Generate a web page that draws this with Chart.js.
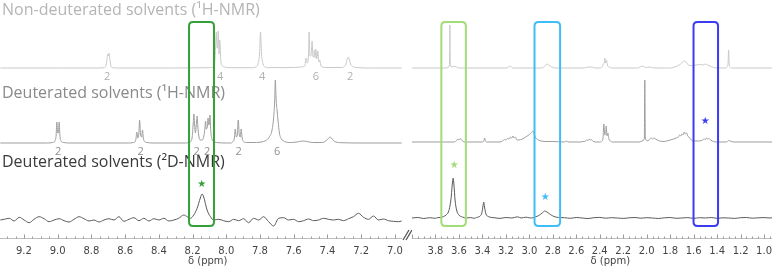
<!DOCTYPE html>
<html>
<head>
<meta charset="utf-8">
<script src="https://cdn.jsdelivr.net/npm/chart.js@4.4.1/dist/chart.umd.min.js"></script>
<style>
  html, body { margin: 0; padding: 0; background: #fff; overflow: hidden; }
  #wrap { position: relative; width: 779px; height: 268px; }
  #c1 { position: absolute; left: 0; top: 0; }
  #c2 { position: absolute; left: 412px; top: 0; }
</style>
</head>
<body>
<div id="wrap">
  <canvas id="c1" width="412" height="268"></canvas>
  <canvas id="c2" width="367" height="268"></canvas>
</div>
<script>
// spectra as [ppm, intensity] pairs
const L_NONDEUT = [
  [9.34,0],[9.0,0],[8.75,0],[8.725,0.3],[8.715,1.5],[8.708,8],[8.703,14],[8.699,12],[8.695,15],[8.69,8],[8.683,1.5],[8.672,0.3],[8.64,0],
  [8.30,0],[8.10,0.3],[8.078,1],[8.068,6],[8.059,36],[8.055,20],[8.052,20],[8.048,37],[8.043,14],[8.039,28],[8.032,6],[8.022,2],[8.01,1],[7.98,0.3],
  [7.85,0.3],[7.825,1],[7.812,4],[7.803,14],[7.797,36],[7.791,14],[7.782,4],[7.77,1],[7.75,0.3],[7.70,0.5],[7.67,0.3],[7.60,0.5],[7.56,1],
  [7.535,2],[7.527,10],[7.52,5],[7.513,12],[7.509,36],[7.504,12],[7.497,13],[7.491,27],[7.486,11],[7.481,12],[7.478,18],[7.473,10],[7.469,19],
  [7.463,9],[7.457,17],[7.451,6],[7.446,8],[7.44,3],[7.43,1],[7.41,0.5],
  [7.32,0.5],[7.30,1.5],[7.29,4],[7.283,9],[7.277,11],[7.271,9],[7.263,4],[7.25,1.5],[7.23,0.5],[7.15,0],[6.96,0]
];
const L_DEUT_1H = [
  [9.34,0],[9.06,0],[9.03,0.5],[9.016,2],[9.009,8],[9.005,21],[9.0,10],[8.996,10],[8.991,21],[8.987,8],[8.98,2],[8.965,0.5],[8.93,0],
  [8.58,0],[8.55,0.5],[8.54,1.5],[8.535,5],[8.531,11],[8.525,5],[8.519,9],[8.514,23],[8.509,9],[8.502,6],[8.497,13],[8.492,5],[8.485,1.5],[8.47,0.5],[8.44,0],
  [8.24,0],[8.215,1],[8.203,5],[8.196,20],[8.192,29],[8.188,18],[8.183,10],[8.177,20],[8.173,27],[8.169,17],[8.162,6],[8.153,3],[8.143,3],
  [8.133,7],[8.127,14],[8.123,22],[8.119,14],[8.113,16],[8.108,25],[8.104,18],[8.1,20],[8.097,28],[8.092,12],[8.085,4],[8.075,1.5],[8.06,0.5],[8.0,0],
  [7.975,0],[7.96,1.5],[7.952,5],[7.947,14],[7.941,6],[7.935,8],[7.929,23],[7.923,8],[7.917,6],[7.912,14],[7.906,5],[7.897,1.5],[7.88,0.5],
  [7.82,0.5],[7.78,1.5],[7.76,3],[7.745,6],[7.73,12],[7.72,24],[7.713,42],[7.709,63],[7.705,45],[7.699,33],[7.693,22],[7.685,10],[7.673,4],
  [7.655,1.5],[7.62,0.5],[7.58,1],[7.55,2],[7.52,1.5],[7.49,0.5],[7.43,0.5],[7.41,2],[7.395,4.5],[7.385,6],[7.376,5],[7.365,2.5],[7.35,1],
  [7.32,0.3],[7.2,0],[6.96,0]
];
const L_DEUT_2D = [
  [9.34,0],[9.317,0.7],[9.287,1.7],[9.258,-1],[9.228,2.7],[9.199,0],[9.169,-2.7],[9.14,0.7],[9.11,3.3],[9.08,1.3],[9.051,-1.7],
  [9.021,0],[8.992,1.3],[8.962,-0.7],[8.933,-2],[8.903,0.7],[8.873,3.3],[8.844,1.3],[8.814,-1],[8.785,0],[8.755,-2],[8.725,0],
  [8.696,1.3],[8.666,0],[8.637,3.3],[8.607,-1.3],[8.577,0.7],[8.548,2.3],[8.518,-0.7],[8.489,1.7],[8.459,-1],[8.429,1.3],[8.4,0],
  [8.37,1.7],[8.341,-1],[8.311,0],[8.282,1.7],[8.252,5],[8.232,3.3],[8.213,1.7],[8.193,5],[8.173,11.7],[8.154,22],[8.144,26],
  [8.134,23],[8.114,10],[8.094,3.3],[8.075,0],[8.045,0.7],[8.016,-0.7],[7.986,-1.7],[7.956,0.7],[7.927,-0.7],[7.897,1.3],[7.868,-2.7],
  [7.838,1.7],[7.808,0],[7.779,3.3],[7.749,-1.7],[7.719,-6],[7.69,1.7],[7.66,2.3],[7.631,0],[7.601,0.7],[7.571,-1.7],[7.542,-0.7],
  [7.512,1],[7.482,-0.7],[7.453,0],[7.423,1.7],[7.394,0.7],[7.364,0],[7.335,0.7],[7.305,-0.7],[7.275,1.3],[7.246,3.3],[7.216,6.7],
  [7.186,2.7],[7.157,0.7],[7.127,4],[7.098,0],[7.068,1],[7.038,-0.7],[7.009,-1.3],[6.979,-1.7],[6.96,-1]
];

const R_NONDEUT = [
  [4.0,0],[3.72,0],[3.69,0.5],[3.682,3],[3.679,15],[3.677,43],[3.675,15],[3.672,3],[3.665,1],[3.64,1.5],[3.62,1],[3.60,0],
  [3.20,0],[3.175,1],[3.165,2],[3.155,1.5],[3.14,0],
  [2.90,0],[2.87,1.5],[2.85,4],[2.835,3],[2.81,1],[2.78,0],
  [2.53,0],[2.50,1],[2.47,1],[2.44,0],
  [2.40,0],[2.38,1],[2.37,4],[2.362,5],[2.357,10],[2.35,5],[2.343,8],[2.335,3],[2.32,1],[2.30,0],
  [2.08,0],[2.05,1.5],[2.04,2],[2.02,1],[2.0,0.5],[1.98,1],[1.96,0.5],[1.93,0],
  [1.80,0],[1.75,1.5],[1.71,4],[1.68,7],[1.665,6],[1.645,3],[1.62,2.5],[1.58,3],[1.54,3.5],[1.52,3],[1.5,4],[1.48,3],[1.46,2],[1.43,0.5],[1.40,0],
  [1.33,0],[1.315,1],[1.307,4],[1.302,18],[1.297,4],[1.29,1],[1.27,0],[0.93,0]
];
const R_DEUT_1H = [
  [4.0,0],[3.64,0],[3.62,1.5],[3.61,3],[3.60,2],[3.59,3.5],[3.58,2.5],[3.57,1],[3.55,0],
  [3.40,0],[3.388,1],[3.381,4],[3.374,1],[3.36,0],
  [3.25,0],[3.23,1],[3.21,2.5],[3.20,2],[3.185,3.5],[3.17,3],[3.16,5],[3.15,4],[3.14,6],[3.13,4],[3.12,5],[3.105,2],[3.09,2],
  [3.06,3],[3.03,5],[3.0,7.5],[2.98,9.5],[2.97,11],[2.962,9],[2.95,5],[2.93,2.5],[2.9,1],[2.85,0.5],[2.80,0.5],
  [2.70,0],[2.685,1],[2.67,0],[2.56,0],[2.545,0.5],
  [2.53,0.5],[2.51,2],[2.50,1.5],[2.49,3],[2.48,2],[2.47,2.5],[2.46,1],[2.44,0],
  [2.40,0],[2.38,1],[2.372,4],[2.365,18],[2.357,7],[2.35,8],[2.345,16],[2.338,6],[2.33,9],[2.322,3],[2.31,1],[2.29,0],
  [2.06,0],[2.04,1],[2.025,2],[2.02,5],[2.016,62],[2.012,5],[2.005,2],
  [1.99,1],[1.975,3],[1.96,4],[1.95,3],[1.94,4],[1.925,3],[1.91,2],[1.89,1],[1.86,0.5],
  [1.83,1],[1.80,2],[1.77,3],[1.75,4],[1.73,5],[1.72,7],[1.71,6],[1.70,8],[1.69,7],[1.68,10],[1.67,8],[1.66,9],[1.65,6],[1.64,5],[1.62,2],[1.60,1],[1.57,1],
  [1.53,1.5],[1.51,3],[1.50,2.5],[1.49,4],[1.48,3],[1.47,3.5],[1.455,2],[1.43,0.5],[1.40,0],
  [1.32,0],[1.30,1.5],[1.28,0.5],[1.25,0],[0.93,0]
];
const R_DEUT_2D = [
  [4.0,0],[3.95,0.5],[3.90,-0.5],[3.85,0.3],[3.80,-0.3],[3.78,0.4],
  [3.76,0.5],[3.73,1.5],[3.71,3],[3.69,6],[3.675,13],[3.665,22],[3.655,36],[3.649,40],[3.643,34],[3.633,18],[3.62,8],[3.60,3],[3.57,1],[3.54,0],
  [3.50,0.4],[3.47,-0.3],
  [3.45,0.5],[3.42,2],[3.405,5],[3.395,12],[3.389,16],[3.382,11],[3.37,4],[3.35,1.5],[3.32,0.5],
  [3.30,0.3],[3.25,-0.4],[3.20,0.5],[3.15,0],[3.10,1.2],[3.07,0],[3.03,0.8],[3.0,0.2],
  [2.98,0],[2.95,1],[2.92,2.5],[2.89,5],[2.87,7],[2.85,6],[2.82,3.5],[2.79,1.5],[2.75,0.5],
  [2.70,0.3],[2.65,-0.3],[2.60,0.5],[2.55,0],[2.50,-0.5],[2.45,0.3],[2.40,0.6],[2.35,-0.2],[2.30,0.3],[2.25,0],[2.20,-0.4],
  [2.15,0.2],[2.10,0.5],[2.05,-0.2],[2.0,0.3],[1.95,0],[1.90,-0.5],[1.85,0.2],[1.80,0.5],[1.75,-0.3],[1.70,0],[1.65,0.4],
  [1.60,-0.4],[1.55,0.3],[1.50,0],[1.45,0.5],[1.40,-0.3],[1.35,0.2],[1.30,0],[1.25,-0.4],[1.20,0.3],[1.15,0.5],[1.10,-0.2],
  [1.05,0.2],[1.0,0.4],[0.95,0],[0.93,0.3]
];

const LEFT_TICKS = [9.2, 9.0, 8.8, 8.6, 8.4, 8.2, 8.0, 7.8, 7.6, 7.4, 7.2, 7.0];
const RIGHT_TICKS = [3.8, 3.6, 3.4, 3.2, 3.0, 2.8, 2.6, 2.4, 2.2, 2.0, 1.8, 1.6, 1.4, 1.2, 1.0];

// proton counts under the peaks: [ppm, label]
const TOP_INTEGRALS = [[8.706,'2'],[8.037,'4'],[7.787,'4'],[7.468,'6'],[7.266,'2']];
const MID_INTEGRALS = [[8.997,'2'],[8.508,'2'],[8.176,'2'],[8.113,'2'],[7.927,'2'],[7.698,'6']];

// highlighted regions [from ppm, to ppm]
const LEFT_BOXES = [[8.221, 8.073]];
const RIGHT_BOXES = [[3.75, 3.541], [2.956, 2.738], [1.601, 1.392]];
// stars [ppm, height]
const LEFT_STARS = [[8.146, 54]];
const RIGHT_STARS = [[3.641, 73], [2.864, 41], [1.501, 117]];

const TITLES = ['Non-deuterated solvents (\u00b9H-NMR)', 'Deuterated solvents (\u00b9H-NMR)', 'Deuterated solvents (\u00b2D-NMR)'];

const LEFT_OFFSETS = [170, 95, 18];
const RIGHT_OFFSETS = [170, 96, 20];
const TRACE_COLORS = ['#c9c9c9', '#9d9d9d', '#5a5a5a'];
const TITLE_COLORS = ['#b5b5b5', '#8a8a8a', '#3a3a3a'];
const LEFT_BOX_COLORS = ['#35a03a'];
const RIGHT_BOX_COLORS = ['#a3dc78', '#3fbdf8', '#3b3bf6'];

function datasets(series, offsets) {
  return series.map((s, i) => ({
    data: s.map(([x, y]) => ({x: x, y: y + offsets[i]})),
    borderColor: TRACE_COLORS[i],
    borderWidth: 1,
    pointRadius: 0,
    cubicInterpolationMode: 'monotone',
    fill: false
  }));
}

function roundBox(ctx, x1, y1, x2, y2, r) {
  ctx.beginPath();
  ctx.moveTo(x1 + r, y1);
  ctx.lineTo(x2 - r, y1);
  ctx.quadraticCurveTo(x2, y1, x2, y1 + r);
  ctx.lineTo(x2, y2 - r);
  ctx.quadraticCurveTo(x2, y2, x2 - r, y2);
  ctx.lineTo(x1 + r, y2);
  ctx.quadraticCurveTo(x1, y2, x1, y2 - r);
  ctx.lineTo(x1, y1 + r);
  ctx.quadraticCurveTo(x1, y1, x1 + r, y1);
  ctx.stroke();
}

function drawAxis(chart, titlePpm) {
  const {ctx, chartArea: area, scales: {x}} = chart;
  const yb = area.bottom + 0.5;
  ctx.strokeStyle = '#bdbdbd';
  ctx.lineWidth = 1;
  ctx.beginPath();
  ctx.moveTo(area.left, yb);
  ctx.lineTo(area.right, yb);
  ctx.stroke();
  ctx.strokeStyle = '#999';
  ctx.beginPath();
  for (let k = Math.ceil(x.min * 20); k <= x.max * 20; k++) {
    const px = Math.round(x.getPixelForValue(k / 20)) + 0.5;
    const len = k % 4 === 0 ? 4 : 2;
    ctx.moveTo(px, yb - len);
    ctx.lineTo(px, yb);
  }
  ctx.stroke();
  ctx.fillStyle = '#444';
  ctx.font = '10px "DejaVu Sans"';
  ctx.textAlign = 'center';
  ctx.textBaseline = 'middle';
  ctx.fillText('\u03b4 (ppm)', x.getPixelForValue(titlePpm), 261);
}

function drawBoxesAndStars(chart, boxes, colors, stars) {
  const {ctx, scales: {x, y}} = chart;
  ctx.lineWidth = 2;
  boxes.forEach(([a, b], i) => {
    ctx.strokeStyle = colors[i];
    roundBox(ctx, x.getPixelForValue(a), y.getPixelForValue(216), x.getPixelForValue(b), y.getPixelForValue(12), 4);
  });
  ctx.font = '10px "DejaVu Sans"';
  ctx.textAlign = 'center';
  ctx.textBaseline = 'middle';
  stars.forEach(([p, h], i) => {
    ctx.fillStyle = colors[i];
    ctx.fillText('\u2605', x.getPixelForValue(p), y.getPixelForValue(h));
  });
}

const leftOverlay = {
  id: 'leftOverlay',
  afterDatasetsDraw(chart) {
    const {ctx, scales: {x, y}} = chart;
    ctx.save();
    drawAxis(chart, 8.11);
    // titles
    ctx.font = '16px "Open Sans"';
    ctx.textAlign = 'left';
    ctx.textBaseline = 'alphabetic';
    [15, 98, 167].forEach((ty, i) => {
      ctx.fillStyle = TITLE_COLORS[i];
      ctx.fillText(TITLES[i], 2, ty);
    });
    // proton counts
    ctx.font = '11px "Open Sans"';
    ctx.textAlign = 'center';
    ctx.textBaseline = 'middle';
    ctx.fillStyle = '#b0b0b0';
    TOP_INTEGRALS.forEach(([p, t]) => ctx.fillText(t, x.getPixelForValue(p), y.getPixelForValue(LEFT_OFFSETS[0] - 9)));
    ctx.fillStyle = '#8f8f8f';
    MID_INTEGRALS.forEach(([p, t]) => ctx.fillText(t, x.getPixelForValue(p), y.getPixelForValue(LEFT_OFFSETS[1] - 9)));
    drawBoxesAndStars(chart, LEFT_BOXES, LEFT_BOX_COLORS, LEFT_STARS);
    // axis break mark
    ctx.strokeStyle = '#555';
    ctx.lineWidth = 1.3;
    ctx.beginPath();
    ctx.moveTo(403, 240); ctx.lineTo(409, 230);
    ctx.moveTo(406, 240); ctx.lineTo(412, 230);
    ctx.stroke();
    ctx.restore();
  }
};

const rightOverlay = {
  id: 'rightOverlay',
  afterDatasetsDraw(chart) {
    chart.ctx.save();
    drawAxis(chart, 2.31);
    drawBoxesAndStars(chart, RIGHT_BOXES, RIGHT_BOX_COLORS, RIGHT_STARS);
    chart.ctx.restore();
  }
};

function makeOptions(min, max, ticks, padRight) {
  return {
    responsive: false,
    animation: false,
    events: [],
    layout: {padding: {left: 0, right: padRight, top: 0, bottom: 0}},
    plugins: {legend: {display: false}, tooltip: {enabled: false}},
    scales: {
      x: {
        type: 'linear',
        reverse: true,
        min: min,
        max: max,
        afterBuildTicks: s => { s.ticks = ticks.map(v => ({value: v})); },
        afterFit: s => { s.height = 30; },
        grid: {display: false, drawTicks: false},
        border: {display: false},
        ticks: {
          font: {family: 'DejaVu Sans', size: 10},
          color: '#444',
          padding: 7,
          maxRotation: 0,
          autoSkip: false,
          callback: v => Number(v).toFixed(1)
        }
      },
      y: {display: false, min: 0, max: 238}
    }
  };
}

new Chart(document.getElementById('c1'), {
  type: 'line',
  data: {datasets: datasets([L_NONDEUT, L_DEUT_1H, L_DEUT_2D], LEFT_OFFSETS)},
  options: makeOptions(6.958, 9.342, LEFT_TICKS, 10),
  plugins: [leftOverlay]
});

new Chart(document.getElementById('c2'), {
  type: 'line',
  data: {datasets: datasets([R_NONDEUT, R_DEUT_1H, R_DEUT_2D], RIGHT_OFFSETS)},
  options: makeOptions(0.933, 4.0, RIGHT_TICKS, 0),
  plugins: [rightOverlay]
});
</script>
</body>
</html>
